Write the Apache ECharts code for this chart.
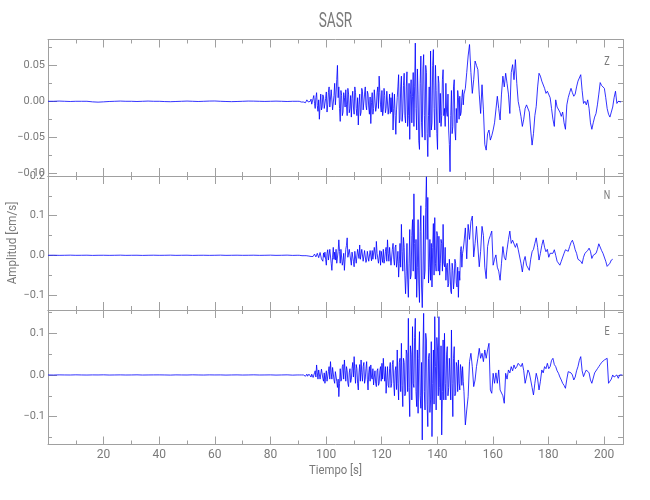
<!DOCTYPE html>
<html><head><meta charset="utf-8">
<script src="https://cdn.jsdelivr.net/npm/echarts@6/dist/echarts.min.js"></script>
<style>html,body{margin:0;padding:0;background:#fff}#c{width:650px;height:500px}</style>
</head><body><div id="c"></div>
<script>
// ---------------- DATA ----------------
const chartTitle = 'SASR';
const componentNames = ['Z', 'N', 'E'];
const xAxisTitle = 'Tiempo [s]';
const yAxisTitle = 'Amplitud [cm/s]';
const timeRange = [0, 206.8];
const xMajorTicks = [20, 40, 60, 80, 100, 120, 140, 160, 180, 200];
const xMinorTicks = [10, 30, 50, 70, 90, 110, 130, 150, 170, 190];
const xTickLabels = ['20', '40', '60', '80', '100', '120', '140', '160', '180', '200'];

// amplitude unit of the arrays below: 0.001 cm/s
const unitScale = 0.001;
// pre-event part, read every 2 s from t = 0
const quietStart = 0, quietStep = 2;
// strong-motion part, read every 0.25 s from t = 89.6
const denseStart = 89.6, denseStep = 0.25;
// coda part, read every 0.5 s from t = 149.6
const tailStart = 149.6, tailStep = 0.5;

const zQuiet = [0,0,0.3,0,-0.3,0,0,0,-0.8,-1.2,-0.8,-0.3,0,0.3,0,0,-0.3,0,0.3,0,0,-0.4,-0.6,-0.3,0,0.3,0,-0.3,0,0.3,0.4,0,-0.3,-0.5,-0.3,0,0.3,0.2,0,-0.2,0,0.2,0,-0.3,0];
const nQuiet = [0,0.2,-0.2,0,0.3,-0.1,0,0.2,-0.3,0,0.1,-0.2,0,0.3,-0.2,0,0.1,-0.3,0,0.2,-0.1,0,0.3,-0.2,0,0.2,-0.3,0,0.1,-0.2,0,0.3,-0.2,0,0.2,-0.1,0,0.2,-0.2,0,0.3,-0.2,0,0.4,-0.3];
const eQuiet = [0,-0.2,0.2,0,-0.1,0.3,0,-0.2,0.1,0,0.3,-0.2,0,0.2,-0.1,0,0.3,-0.2,0,0.1,0.2,0,-0.3,0.2,0,-0.1,0.3,0,-0.2,0.2,0,0.1,-0.3,0,0.2,-0.2,0,0.3,-0.1,0,0.2,-0.3,0,0.3,-0.4];

const zDense = [
 0,-1,1,0,0,1,-1,0,1,-1,0,1,-2,0,2,1,-1,1,-3,0,
 3,-4,-6,4,8,-3,-10,5,12,-6,-14,2,-25,-5,10,-12,-8,9,6,-10,
 -12,4,13,-15,-5,12,20,-8,-10,16,14,-12,-14,8,25,-5,10,30,50,5,
 20,-10,-28,15,8,-20,-15,12,5,-8,16,-5,-20,18,10,-16,-10,8,-22,4,
 14,-8,-18,20,12,-10,-20,5,-33,-5,10,-20,-15,18,14,-12,-10,10,20,-6,
 -12,14,10,-8,-18,6,-31,-2,12,-18,-10,16,15,-14,-8,12,20,-10,35,12,
 -5,-15,15,-20,-12,18,8,-16,-10,14,12,-18,-8,10,-17,5,
 -15,12,-40,-10,10,-20,-46,-12,5,20,37,-30,-25,20,35,-28,-15,22,39,-20,
 -30,20,41,-35,-20,25,-53,10,30,-30,7,40,-35,20,81,-10,-40,45,10,-55,
 -67,25,63,-30,-50,45,65,-20,-54,50,40,-45,-77,-20,20,-50,70,-40,-30,50,
 72,-10,-40,50,15,-45,-67,35,25,-30,11,-35,-20,30,44,-20,-10,-35,25,-15,
 -21,10,-40,-60,-98,-20,15,-45,-35,20,30,-40,-54,-10,-30,15,5,-25,7,-20,
 -15,5,16,-5
];
const zTail = [
 10,18,40,63,79,40,11,30,56,50,
 44,10,-17,23,-12,-60,-68,-45,-40,-54,
 -48,-40,-30,-31,7,-10,-26,10,35,20,
 39,25,10,-17,40,51,30,58,25,0,
 -10,-21,-35,-25,-10,-5,-3,-15,-40,-61,
 -45,-20,-7,20,39,35,28,30,18,11,
 14,16,5,-10,-25,-35,2,-8,-10,-15,
 -21,-15,-30,-39,-5,5,12,18,12,7,
 10,20,28,30,37,15,-3,0,-5,2,
 -10,-30,-39,-30,-22,-17,-5,10,26,22,
 20,18,5,-10,-18,-22,-15,-8,5,14,
 -3,0,2,-1
];
const nDense = [
 0,-1,1,0,-1,1,1,-1,0,1,-1,0,2,-1,-2,1,1,-2,3,-1,
 -3,1,2,-3,-4,3,5,-4,-3,5,6,-6,-8,7,10,-9,-12,-15,6,-5,
 8,-10,-25,5,14,-12,-10,15,12,-20,-38,-5,20,-10,8,-12,15,-20,-15,10,
 39,10,-20,15,10,-25,-15,5,-38,-10,15,25,44,-5,-10,15,20,-12,-25,8,
 5,-15,-29,10,12,-20,-15,15,10,-8,26,-10,-5,15,10,-15,-12,12,8,-18,
 -12,10,5,-15,-10,12,8,-14,12,-10,-8,20,15,-10,35,5,10,-20,-15,12,
 -25,10,5,-18,15,-20,-10,10,20,-15,39,5,-15,20,25,-25,-20,15,30,-10,
 -25,20,26,-30,-15,10,-55,-20,30,-30,78,10,-40,45,20,-50,-97,-40,30,-60,
 -106,-20,65,-60,-50,50,90,-40,155,30,-60,40,-106,-30,90,-70,-119,60,125,-80,
 -132,-50,100,-60,-40,120,198,40,146,-70,-30,40,-63,30,-80,20,80,-50,95,-20,
 -40,60,50,-40,48,-50,-20,40,30,-40,78,-20,-29,20,-63,-30,-20,-80,-72,-10,
 -40,-90,-97,-20,-38,-85,-60,-10,-20,-70,-80,-30,-106,-40,-63,10,22,-30,5,15
];
const nTail = [
 31,69,
 -9,78,40,85,99,-4,30,73,78,-29,
 10,73,50,-30,-59,22,40,50,61,-25,
 -10,1,-30,-40,-63,-20,22,-5,-12,15,
 40,61,30,38,35,20,30,15,20,-20,
 -42,-15,-3,-25,-30,-38,-10,9,15,30,
 44,20,-12,5,25,39,20,9,15,-5,
 5,10,5,14,0,-15,-20,-25,-15,-18,
 5,14,18,10,22,32,38,28,14,5,
 -10,-12,-15,-21,-5,5,2,12,18,10,
 -8,0,3,5,15,29,25,12,5,0,
 -15,-28,-33,-20,-12,-10
];
const eDense = [
 0,1,-1,0,1,-1,0,2,-2,0,1,-2,-3,1,2,-3,-4,2,3,-2,
 -5,2,6,-6,-8,5,10,-5,24,5,-10,12,15,-10,-8,14,12,-8,-15,5,
 -20,-5,10,-15,-12,8,20,-10,32,5,-10,18,15,-12,-20,8,10,-15,-30,-10,
 -52,-20,15,-15,-10,20,25,-10,36,10,-15,20,10,-20,-28,5,15,-18,-10,15,
 30,-5,44,10,-20,25,15,-20,-36,5,25,-15,36,5,-15,20,30,-20,-10,15,
 32,-10,-36,5,20,-15,24,-5,-10,15,-24,-5,10,-20,-28,10,15,-25,-20,10,
 20,-15,28,-10,40,5,-15,20,-44,-10,20,-25,-30,15,30,-30,-20,25,35,-20,
 -50,10,20,-35,60,-20,-60,30,40,-40,76,-25,-76,40,30,-50,-44,60,50,-40,
 136,-30,-100,70,50,-60,116,-20,-30,90,136,-40,-76,60,-92,40,104,-50,-80,30,
 -156,60,148,-40,-84,100,84,-70,-124,40,52,-90,-60,80,-148,-20,60,-70,140,20,
 -84,90,60,-50,140,-30,-60,70,-144,-40,84,-60,100,-20,-60,50,68,-50,-30,40,
 40,-60,108,-20,-100,40,68,-50,-44,30,20,-40,36,-20,-36,25,10,-25,20,-15
];
const eTail = [
 -40,-120,-84,-52,32,52,20,-28,-12,20,
 40,64,40,52,32,60,40,60,76,-36,
 -44,4,-20,5,-20,12,-36,-40,-50,-68,
 4,-10,12,5,20,10,24,15,20,28,
 32,20,28,10,-20,-5,12,5,-12,-30,
 -48,-20,4,-10,-36,-15,12,5,20,15,
 28,15,20,35,40,25,20,10,4,-5,
 -12,-20,-25,-32,-10,8,12,5,0,-12,
 -5,10,20,35,44,10,-4,5,12,10,
 5,-12,-20,-24,5,8,15,20,25,30,
 32,36,38,40,-20,-15,-10,0,-5,-8,
 0,-8,0,-2,0
];

const yRanges = [[-0.104, 0.086], [-0.138, 0.2], [-0.167, 0.156]];
const yMajorTicks = [[-0.1, -0.05, 0, 0.05], [-0.1, 0, 0.1, 0.2], [-0.1, 0, 0.1]];
const yMinorTicks = [[-0.075, -0.025, 0.025, 0.075], [-0.05, 0.05, 0.15], [-0.15, -0.05, 0.05, 0.15]];
const yTickLabels = [['\u22120.10', '\u22120.05', '0.00', '0.05'], ['\u22120.1', '0.0', '0.1', '0.2'], ['\u22120.1', '0.0', '0.1']];
const quietData = [zQuiet, nQuiet, eQuiet];
const denseData = [zDense, nDense, eDense];
const tailData = [zTail, nTail, eTail];

// ---------------- LAYOUT / STYLE ----------------
const FONT = 'Roboto,"Liberation Sans",sans-serif';
const TXT = '#7a7a7a';
const AX = '#a0a0a0';
const panelTops = [39.5, 176, 310];
const panelHeights = [136.5, 134, 134.5];
const gridLeft = 48, gridRight = 27;

const chart = echarts.init(document.getElementById('c'), null, {renderer: 'canvas'});

const grids = [], xAxes = [], yAxes = [], series = [];
const lineAx = {show: true, onZero: false, lineStyle: {color: AX, width: 1}};
const noLine = {show: false, onZero: false};

for (let g = 0; g < 3; g++) {
  grids.push({left: gridLeft, right: gridRight, top: panelTops[g], height: panelHeights[g], containLabel: false});
  const xBase = {gridIndex: g, type: 'value', min: timeRange[0], max: timeRange[1], splitLine: {show: false}};
  const xi = xAxes.length;
  xAxes.push(Object.assign({}, xBase, {
    position: 'bottom', axisLine: lineAx,
    axisTick: {show: true, inside: true, length: 8, customValues: xMajorTicks, lineStyle: {color: AX}},
    axisLabel: g === 2 ? {show: true, customValues: xMajorTicks, margin: 4, color: TXT, fontFamily: FONT, fontSize: 12,
      formatter: v => { const k = xMajorTicks.indexOf(v); return k >= 0 ? xTickLabels[k] : ''; }} : {show: false}
  }));
  xAxes.push(Object.assign({}, xBase, {position: 'bottom', axisLine: noLine,
    axisTick: {show: true, inside: true, length: 4, customValues: xMinorTicks, lineStyle: {color: AX}}, axisLabel: {show: false}}));
  xAxes.push(Object.assign({}, xBase, {position: 'top', axisLine: lineAx,
    axisTick: {show: true, inside: true, length: 8, customValues: xMajorTicks, lineStyle: {color: AX}}, axisLabel: {show: false}}));
  xAxes.push(Object.assign({}, xBase, {position: 'top', axisLine: noLine,
    axisTick: {show: true, inside: true, length: 4, customValues: xMinorTicks, lineStyle: {color: AX}}, axisLabel: {show: false}}));

  const yBase = {gridIndex: g, type: 'value', min: yRanges[g][0], max: yRanges[g][1], splitLine: {show: false}};
  const yi = yAxes.length;
  const maj = yMajorTicks[g], labs = yTickLabels[g];
  yAxes.push(Object.assign({}, yBase, {position: 'left', axisLine: lineAx,
    axisTick: {show: true, inside: true, length: 9, customValues: maj, lineStyle: {color: AX}},
    axisLabel: {show: true, customValues: maj, margin: 3, color: TXT, fontFamily: FONT, fontSize: 11,
      formatter: v => { const k = maj.findIndex(m => Math.abs(m - v) < 1e-9); return k >= 0 ? labs[k] : ''; }}}));
  yAxes.push(Object.assign({}, yBase, {position: 'left', axisLine: noLine,
    axisTick: {show: true, inside: true, length: 4, customValues: yMinorTicks[g], lineStyle: {color: AX}}, axisLabel: {show: false}}));
  yAxes.push(Object.assign({}, yBase, {position: 'right', axisLine: lineAx,
    axisTick: {show: true, inside: true, length: 5, customValues: maj.concat(yMinorTicks[g]), lineStyle: {color: AX}}, axisLabel: {show: false}}));

  const pts = [];
  quietData[g].forEach((v, i) => pts.push([quietStart + i * quietStep, v * unitScale]));
  denseData[g].forEach((v, i) => pts.push([denseStart + i * denseStep, v * unitScale]));
  tailData[g].forEach((v, i) => pts.push([tailStart + i * tailStep, v * unitScale]));
  series.push({
    type: 'line', xAxisIndex: xi, yAxisIndex: yi, data: pts, showSymbol: false, symbol: 'none',
    sampling: null, clip: true, animation: false,
    lineStyle: {color: '#0000ff', width: 0.8}
  });
}

const plotCenterX = gridLeft + (650 - gridLeft - gridRight) / 2;
const graphics = [
  {type: 'text', x: plotCenterX, y: 21.5, scaleX: 0.68, style: {text: chartTitle, align: 'center', verticalAlign: 'middle', font: '20px ' + FONT, fill: TXT}},
  {type: 'text', x: plotCenterX, y: 471, scaleX: 0.87, style: {text: xAxisTitle, align: 'center', verticalAlign: 'middle', font: '13px ' + FONT, fill: TXT}},
  {type: 'text', x: 12.5, y: 243, rotation: Math.PI / 2, scaleX: 0.89, style: {text: yAxisTitle, align: 'center', verticalAlign: 'middle', font: '13px ' + FONT, fill: TXT}}
];
const compLabelY = [61.5, 196, 332];
componentNames.forEach((n, g) => graphics.push({type: 'text', x: 607, y: compLabelY[g], scaleX: 0.7,
  style: {text: n, align: 'center', verticalAlign: 'middle', font: '13px ' + FONT, fill: TXT}}));

chart.setOption({
  animation: false,
  backgroundColor: '#ffffff',
  grid: grids, xAxis: xAxes, yAxis: yAxes, series: series, graphic: graphics
});
</script></body></html>
